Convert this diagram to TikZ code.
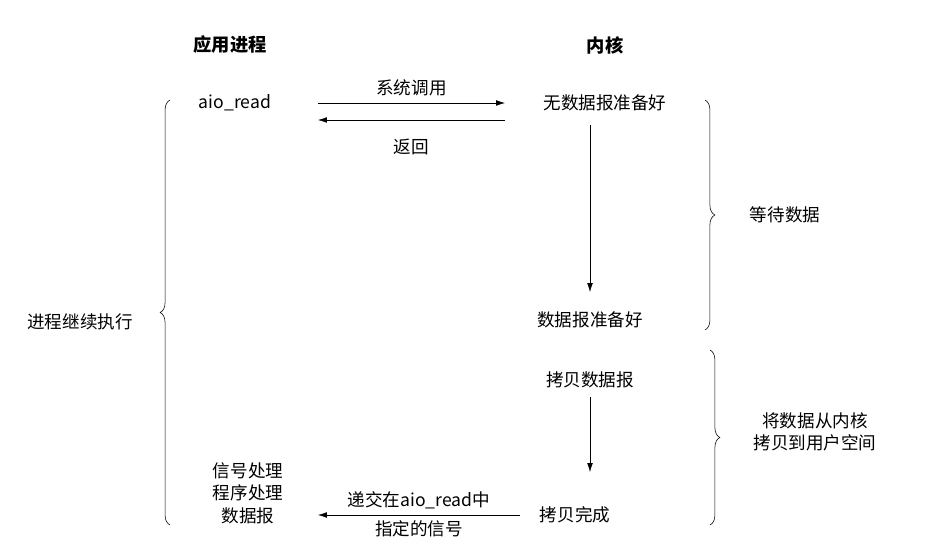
\documentclass[tikz,border=0pt]{standalone}
\usepackage{fontspec}
\setmainfont{Noto Sans CJK SC}
\usetikzlibrary{arrows.meta,decorations.pathreplacing,positioning}
\begin{document}
\begin{tikzpicture}[x=0.025cm, y=-0.025cm, >={Latex[length=2.2mm,width=1.4mm]}]
 % styles for labels, arrows and braces
 \tikzset{
lbl/.style = {font=\fontsize{12.5}{16}\selectfont, align=center, inner sep=1pt},
head/.style = {lbl, font=\fontsize{13}{16}\selectfont\bfseries},
line/.style = {draw, ->, thin},
brc/.style = {draw, thin, decorate, decoration={brace, amplitude=7pt}},
}
 \useasboundingbox (0,0) rectangle (948,550);

 % headings
 \node [head] (proc) at (230,45) {应用进程};
 \node [head] (kern) at (605,45) {内核};

 % process side
 \node [lbl] (aio) at (235,103) {aio\_read};
 \node [lbl] (sig) at (248,493) {信号处理\\程序处理\\数据报};
 \node [lbl] (cont) at (80,322) {进程继续执行};

 % kernel side
 \node [lbl] (nodata) at (605,103) {无数据报准备好};
 \node [lbl] (ready) at (590,320) {数据报准备好};
 \node [lbl] (copy) at (590,380) {拷贝数据报};
 \node [lbl] (done) at (575,515) {拷贝完成};
 \node [lbl] (wait) at (785,215) {等待数据};
 \node [lbl] (move) at (815,432) {将数据从内核\\拷贝到用户空间};

 % connectors
 \coordinate (c1) at (318,103); \coordinate (c2) at (505,103);
 \coordinate (c3) at (505,120); \coordinate (c4) at (318,120);
 \coordinate (c5) at (520,515); \coordinate (c6) at (318,515);
 \coordinate (v1) at (590,125); \coordinate (v2) at (590,292);
 \coordinate (v3) at (590,397); \coordinate (v4) at (590,472);
 \draw [line] (c1) -- (c2) node[midway, above=4pt, lbl] (call) {系统调用};
 \draw [line] (c3) -- (c4) node[midway, below=12pt, lbl] (ret) {返回};
 \draw [line] (v1) -- (v2);
 \draw [line] (v3) -- (v4);
 \draw [line] (c5) -- (c6) node[midway, above=3pt, lbl] (give) {递交在aio\_read中}
   node[midway, below=3pt, lbl] (named) {指定的信号};

 % braces
 \draw [brc] (705,100) -- (705,330);
 \draw [brc] (710,350) -- (710,525);
 \draw [brc] (170,525) -- (170,100);
\end{tikzpicture}
\end{document}
